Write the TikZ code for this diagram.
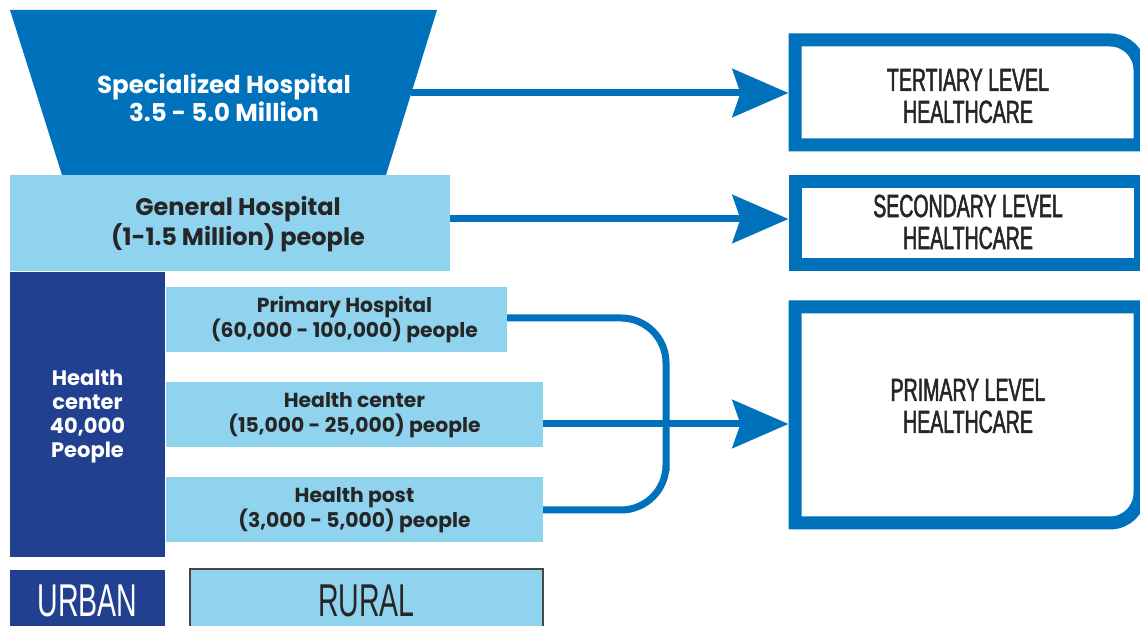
\documentclass[tikz,border=0pt]{standalone}
\usepackage{fontspec}
\usetikzlibrary{arrows.meta}
\newfontfamily\gothic{Poppins}
\newfontfamily\condfont[FakeStretch=0.62]{Liberation Sans}
\newfontfamily\condbold[FakeStretch=0.61, FakeBold=1.6]{Liberation Sans}
\definecolor{mainblue}{RGB}{0,114,188}
\definecolor{lightblue}{RGB}{144,211,239}
\definecolor{navy}{RGB}{33,64,143}
\definecolor{darktext}{RGB}{38,38,38}
\definecolor{rimgray}{RGB}{70,70,70}
\tikzset{
  box/.style={inner sep=0pt, outer sep=0pt, anchor=center},
  lightbox/.style={box, fill=lightblue},
  bodytext/.style={align=center, text=darktext, font=\gothic\bfseries\fontsize{20.3}{25}\selectfont},
  bigtext/.style={align=center, text=darktext, font=\gothic\bfseries\fontsize{24}{28}\selectfont},
  whitetext/.style={align=center, text=white, font=\gothic\bfseries\fontsize{24.5}{28}\selectfont},
  coltext/.style={align=center, text=white, font=\gothic\bfseries\fontsize{21}{24}\selectfont},
  lvltext/.style={align=center, text=darktext, font=\condbold\fontsize{32}{32}\selectfont},
  lvlrim/.style={draw=mainblue, line width=13pt},
  arr/.style={draw=mainblue, line width=7pt, -{Stealth[length=56pt, width=48pt, inset=8pt]}},
  conn/.style={draw=mainblue, line width=7pt}
}
\begin{document}
\begin{tikzpicture}[x=1pt,y=1pt]
\useasboundingbox (0,0) rectangle (1140,626);
\clip (0,0) rectangle (1140,626);

% left pyramid
\fill[mainblue] (10,616) -- (437,616) -- (386,451) -- (62,451) -- cycle;
\node[whitetext] (spec) at (224,528) {Specialized Hospital\\3.5 - 5.0 Million};
\coordinate (tz) at (411,533);

\node[lightbox, minimum width=440pt, minimum height=96pt] (gen) at (230,403) {};
\node[bigtext] (gent) at (238,402) {General Hospital\\(1-1.5 Million) people};

\node[box, fill=navy, minimum width=155pt, minimum height=285pt] (hcol) at (87.5,211.5) {};
\node[coltext] (hcolt) at (87.5,209) {Health\\center\\40,000\\People};

\node[lightbox, minimum width=341pt, minimum height=65pt] (ph) at (336.5,306.5) {};
\node[bodytext] (pht) at (344.5,306) {Primary Hospital\\(60,000 - 100,000) people};

\node[lightbox, minimum width=377pt, minimum height=65pt] (hc) at (354.5,211.5) {};
\node[bodytext] (hct) at (354.5,211) {Health center\\(15,000 - 25,000) people};

\node[lightbox, minimum width=377pt, minimum height=65pt] (hp) at (354.5,116.5) {};
\node[bodytext] (hpt) at (354.5,116) {Health post\\(3,000 - 5,000) people};

\node[box, fill=navy, minimum width=155pt, minimum height=56pt] (urb) at (87.5,28) {};
\node[text=white, font=\condfont\fontsize{46}{46}\selectfont] (urbt) at (87.5,25) {URBAN};
\node[box, fill=lightblue, draw=rimgray, line width=1.5pt, minimum width=353pt, minimum height=58pt] (rur) at (366.5,28) {};
\node[text=darktext, font=\condfont\fontsize{46}{46}\selectfont] (rurt) at (366.5,25) {RURAL};

% level boxes (centre lines of the thick rims)
\node[box, minimum width=345pt, minimum height=105pt] (ter) at (967.5,533.5) {};
\draw[lvlrim] (ter.south west) -- (ter.north west) -- ([xshift=-30pt]ter.north east)
  arc[start angle=90, end angle=0, radius=30pt] -- (ter.south east) -- cycle;
\node[lvltext] (tert) at (968,530) {TERTIARY LEVEL\\HEALTHCARE};

\node[box, minimum width=345pt, minimum height=83pt] (sec) at (967.5,402.5) {};
\draw[lvlrim] (sec.south west) rectangle (sec.north east);
\node[lvltext] (sect) at (968,404) {SECONDARY LEVEL\\HEALTHCARE};

\node[box, minimum width=345pt, minimum height=216pt] (pri) at (967.5,211) {};
\draw[lvlrim] ([yshift=30pt]pri.south east) -- (pri.north east) -- (pri.north west) -- (pri.south west)
  -- ([xshift=-30pt]pri.south east) arc[start angle=-90, end angle=0, radius=30pt] -- cycle;
\node[lvltext] (prit) at (968,220) {PRIMARY LEVEL\\HEALTHCARE};

% connectors
\draw[arr] (tz) -- ([xshift=-6.5pt]tz -| ter.west);
\draw[arr] ([yshift=4pt]gen.east) -- ([xshift=-6.5pt, yshift=4pt]gen.east -| sec.west);
\coordinate (bend) at (666,200);
\draw[conn, rounded corners=45pt] ([yshift=1.5pt]ph.east) -| (bend) |- ([yshift=-0.5pt]hp.east);
\draw[arr] ([yshift=-9.5pt]hc.east) -- ([xshift=-6.5pt, yshift=-9.5pt]hc.east -| pri.west);
\end{tikzpicture}
\end{document}
